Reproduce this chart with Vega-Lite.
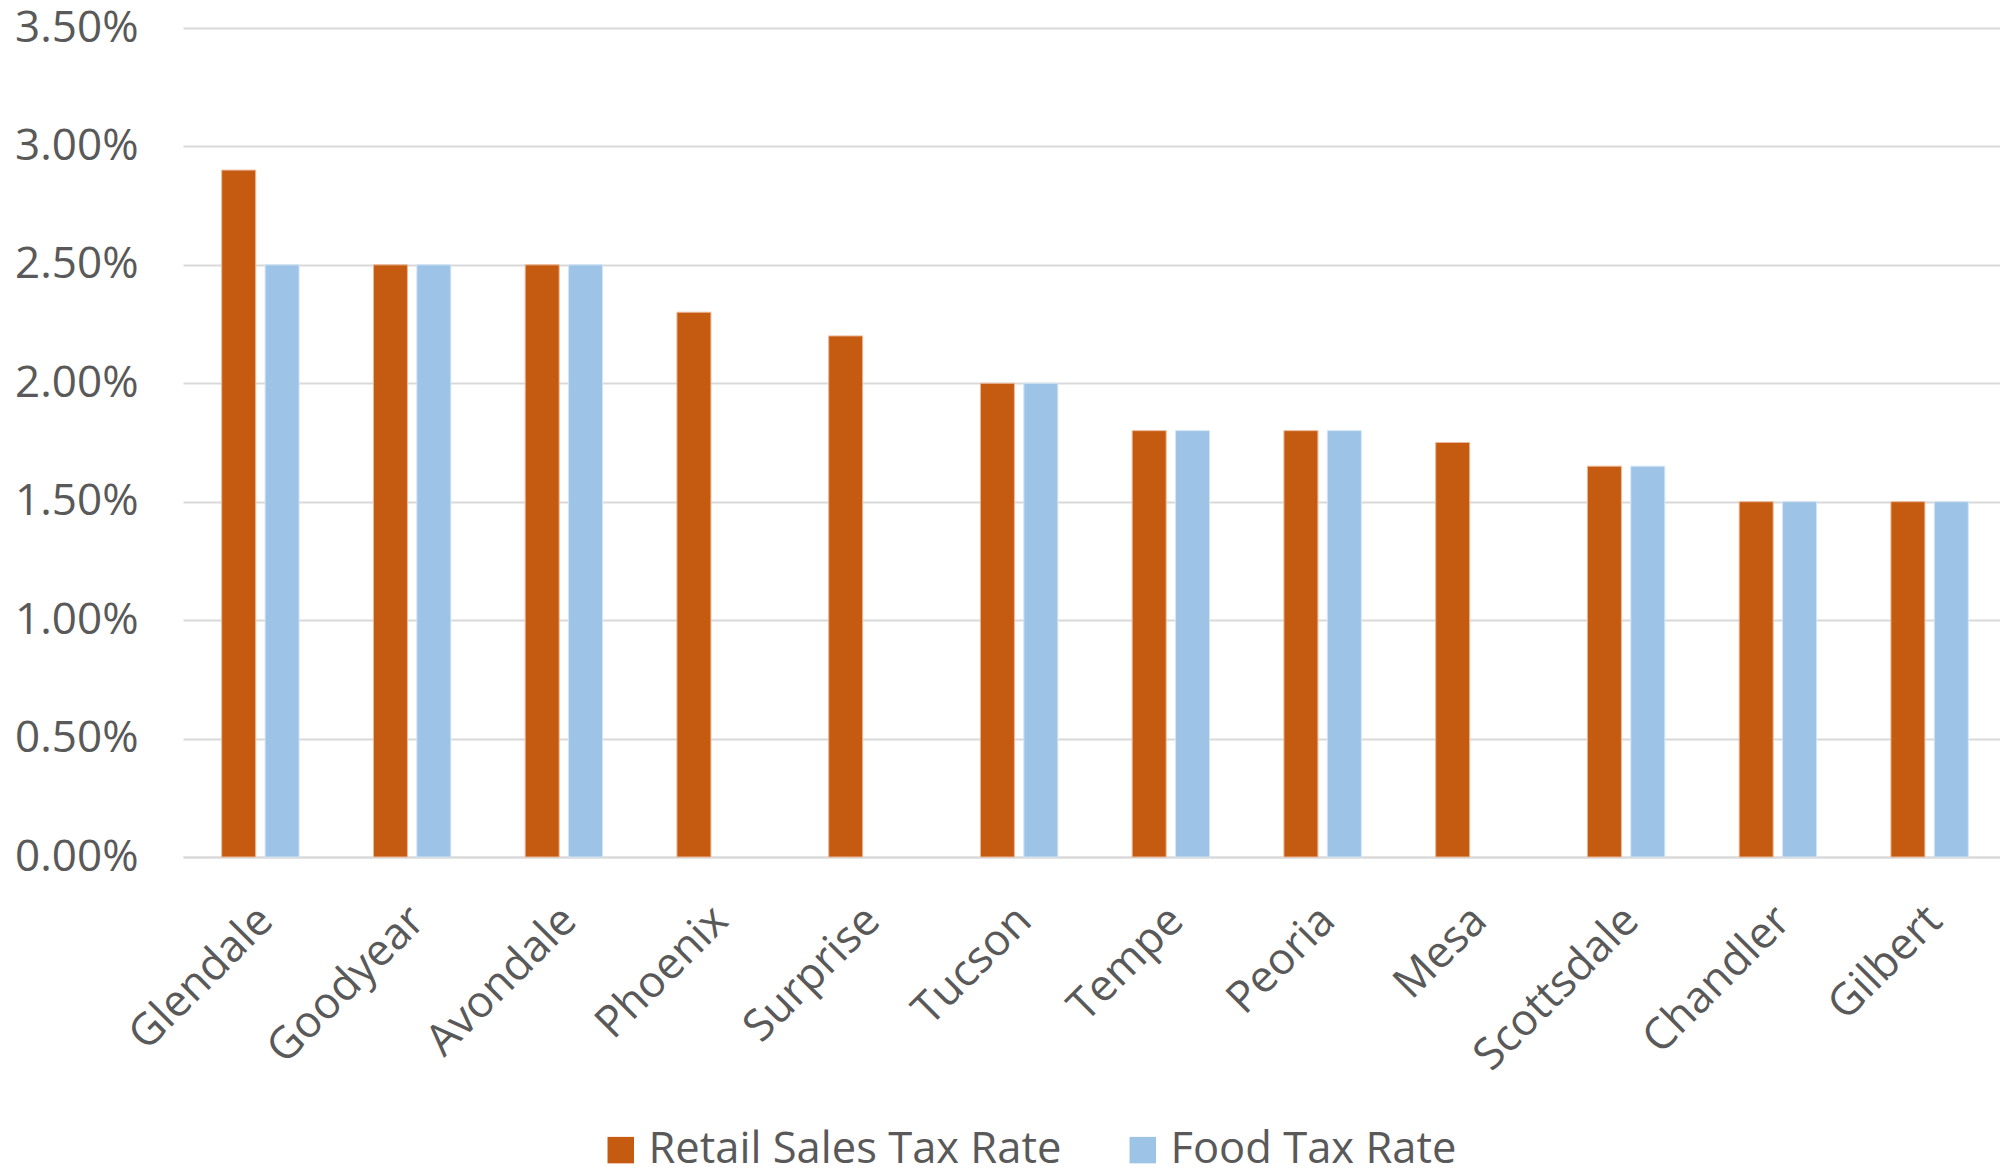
{
  "$schema": "https://vega.github.io/schema/vega-lite/v6.json",
  "autosize": "none",
  "width": 1817,
  "height": 829,
  "padding": {"left": 183, "top": 28, "right": 0, "bottom": 315},
  "background": "white",
  "config": {
    "view": {"stroke": null},
    "font": "Open Sans",
    "axis": {"labelFont": "Open Sans", "labelColor": "#595959", "labelFontSize": 44, "titleFont": "Open Sans"},
    "legend": {"labelFont": "Open Sans"}
  },
  "data": {
    "values": [
      {"city": "Glendale", "series": "Retail Sales Tax Rate", "rate": 0.029},
      {"city": "Glendale", "series": "Food Tax Rate", "rate": 0.025},
      {"city": "Goodyear", "series": "Retail Sales Tax Rate", "rate": 0.025},
      {"city": "Goodyear", "series": "Food Tax Rate", "rate": 0.025},
      {"city": "Avondale", "series": "Retail Sales Tax Rate", "rate": 0.025},
      {"city": "Avondale", "series": "Food Tax Rate", "rate": 0.025},
      {"city": "Phoenix", "series": "Retail Sales Tax Rate", "rate": 0.023},
      {"city": "Surprise", "series": "Retail Sales Tax Rate", "rate": 0.022},
      {"city": "Tucson", "series": "Retail Sales Tax Rate", "rate": 0.02},
      {"city": "Tucson", "series": "Food Tax Rate", "rate": 0.02},
      {"city": "Tempe", "series": "Retail Sales Tax Rate", "rate": 0.018},
      {"city": "Tempe", "series": "Food Tax Rate", "rate": 0.018},
      {"city": "Peoria", "series": "Retail Sales Tax Rate", "rate": 0.018},
      {"city": "Peoria", "series": "Food Tax Rate", "rate": 0.018},
      {"city": "Mesa", "series": "Retail Sales Tax Rate", "rate": 0.0175},
      {"city": "Scottsdale", "series": "Retail Sales Tax Rate", "rate": 0.0165},
      {"city": "Scottsdale", "series": "Food Tax Rate", "rate": 0.0165},
      {"city": "Chandler", "series": "Retail Sales Tax Rate", "rate": 0.015},
      {"city": "Chandler", "series": "Food Tax Rate", "rate": 0.015},
      {"city": "Gilbert", "series": "Retail Sales Tax Rate", "rate": 0.015},
      {"city": "Gilbert", "series": "Food Tax Rate", "rate": 0.015}
    ]
  },
  "mark": {"type": "bar", "strokeWidth": 1},
  "encoding": {
    "x": {
      "field": "city",
      "type": "nominal",
      "sort": null,
      "scale": {"paddingInner": 0.49, "paddingOuter": 0.255, "range": [0, 1824]},
      "axis": {
        "title": null,
        "labelAngle": -45,
        "labelAlign": "right",
        "labelBaseline": "top",
        "labelPadding": 41,
        "labelOffset": -10,
        "labelLimit": 1000,
        "ticks": false,
        "domain": true,
        "domainColor": "#d9d9d9",
        "domainWidth": 2
      }
    },
    "xOffset": {
      "field": "series",
      "type": "nominal",
      "sort": ["Retail Sales Tax Rate", "Food Tax Rate"],
      "scale": {"paddingInner": 0.217, "paddingOuter": 0}
    },
    "y": {
      "field": "rate",
      "type": "quantitative",
      "scale": {"domain": [0, 0.035], "nice": false},
      "axis": {
        "title": null,
        "values": [0, 0.005, 0.01, 0.015, 0.02, 0.025, 0.03, 0.035],
        "format": ".2%",
        "ticks": false,
        "domain": false,
        "labelPadding": 45,
        "gridColor": "#d9d9d9",
        "gridWidth": 2
      }
    },
    "color": {
      "field": "series",
      "type": "nominal",
      "sort": ["Retail Sales Tax Rate", "Food Tax Rate"],
      "scale": {"domain": ["Retail Sales Tax Rate", "Food Tax Rate"], "range": ["#C55A11", "#9DC3E6"]},
      "legend": {
        "title": null,
        "orient": "none",
        "direction": "horizontal",
        "legendX": 416,
        "legendY": 1100,
        "symbolType": "square",
        "symbolSize": 700,
        "symbolStrokeWidth": 0,
        "labelFontSize": 43.5,
        "labelColor": "#595959",
        "labelOffset": 6,
        "columnPadding": 59,
        "labelLimit": 1000
      }
    },
    "stroke": {
      "field": "series",
      "type": "nominal",
      "scale": {"domain": ["Retail Sales Tax Rate", "Food Tax Rate"], "range": ["#EDB898", "#D3E5F5"]},
      "legend": null
    }
  }
}
